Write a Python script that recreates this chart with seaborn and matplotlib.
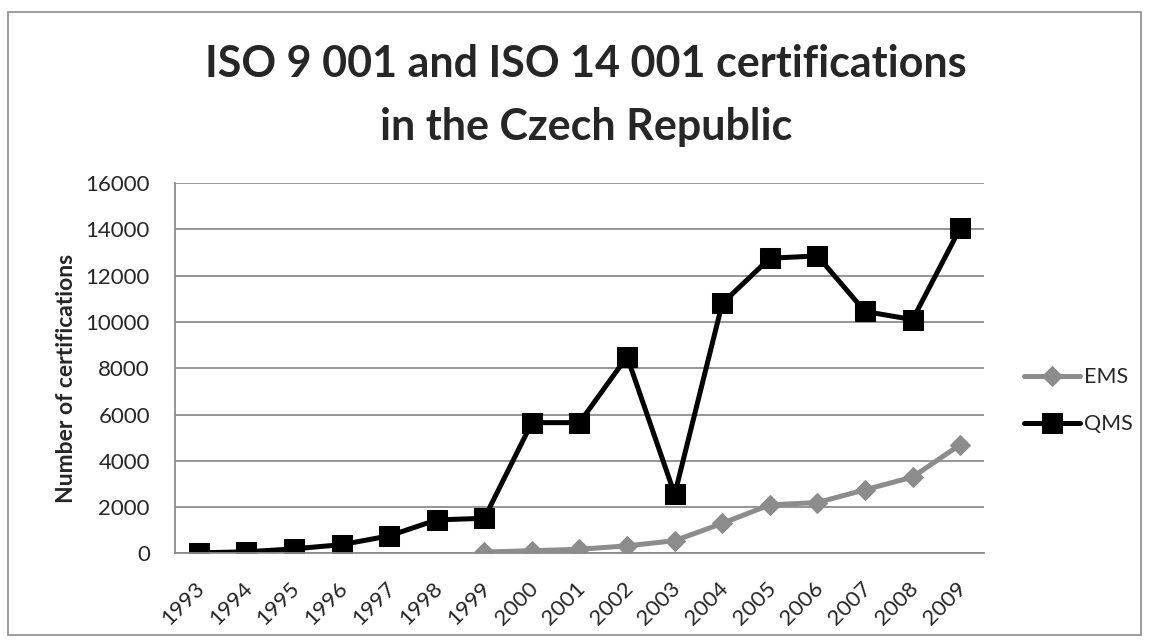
import matplotlib
matplotlib.use("Agg")
import matplotlib.pyplot as plt
import seaborn as sns
import pandas as pd
import numpy as np
from matplotlib.patches import Rectangle

years = list(range(1993, 2010))
qms = [30, 70, 200, 380, 760, 1450, 1520, 5650, 5650, 8500, 2550, 10800, 12750, 12850, 10450, 10100, 14050]
ems = [np.nan]*6 + [60, 120, 180, 330, 550, 1300, 2100, 2200, 2750, 3300, 4700]
yticks = list(range(0, 16001, 2000))

sns.set_theme(style="white")
plt.rcParams['font.family'] = ['Lato', 'DejaVu Sans']

df = pd.DataFrame({"Year": years, "EMS": ems, "QMS": qms})

fig = plt.figure(figsize=(11.49, 6.42), dpi=100)
ax = fig.add_axes([0.1523, 0.1379, 0.7041, 0.5771])

sns.lineplot(data=df, x="Year", y="EMS", ax=ax, color="#8c8c8c", lw=3.6,
             marker="D", markersize=10, markeredgecolor="#8c8c8c", label="EMS")
sns.lineplot(data=df, x="Year", y="QMS", ax=ax, color="black", lw=3.6,
             marker="s", markersize=14, markeredgecolor="black", label="QMS")

ax.set_xlim(1992.5, 2009.5)
ax.set_ylim(0, 16000)
ax.set_yticks(yticks)
ax.set_yticklabels([str(v) for v in yticks], fontsize=16)
ax.set_xticks(years)
ax.set_xticklabels([""] * len(years))
for y in years:
    ax.annotate(str(y), xy=(y, 0), xycoords=ax.get_xaxis_transform(),
                xytext=(-3, -17.5), textcoords="offset points", rotation=45,
                ha="right", va="top", rotation_mode="anchor", fontsize=16)
ax.tick_params(axis='y', length=0, pad=18)
ax.tick_params(axis='x', length=0)
ax.grid(axis='y', color="#8c8c8c", lw=1.3)
ax.grid(axis='x', visible=False)
for s in ["top", "right"]:
    ax.spines[s].set_visible(False)
for s in ["left", "bottom"]:
    ax.spines[s].set_color("#8c8c8c")
    ax.spines[s].set_linewidth(1.3)
ax.set_xlabel("")
ax.set_ylabel("Number of certifications", fontsize=16.5, fontweight="bold")
ax.yaxis.set_label_coords(-0.121, 0.472)

leg = ax.legend(loc="center left", bbox_to_anchor=(1.025, 0.412), frameon=False,
                fontsize=15.5, handlelength=2.6, handletextpad=0.2, labelspacing=1.25)

fig.text(0.510, 1 - 77 / 642, "ISO 9 001 and ISO 14 001 certifications",
         ha="center", va="baseline", fontsize=31, fontweight="bold")
fig.text(0.510, 1 - 140 / 642, "in the Czech Republic",
         ha="center", va="baseline", fontsize=31, fontweight="bold")

fig.patches.append(Rectangle((0.007, 0.0109), 0.986, 0.970, transform=fig.transFigure,
                             fill=False, edgecolor="#8c8c8c", lw=1.2))

fig.savefig("out.png", dpi=100)
